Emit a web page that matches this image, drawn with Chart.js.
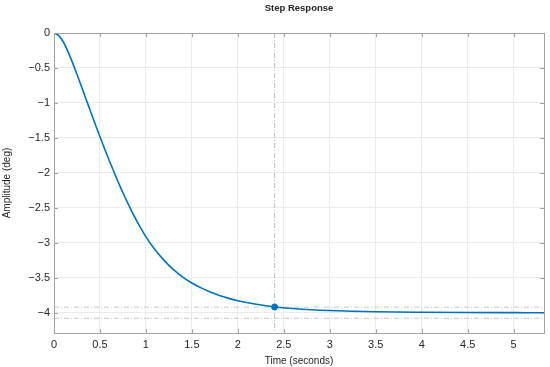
<!DOCTYPE html>
<html>
<head>
<meta charset="utf-8">
<script src="https://cdn.jsdelivr.net/npm/chart.js@4.4.1/dist/chart.umd.min.js"></script>
<style>
html,body{margin:0;padding:0;background:#fff;}
#wrap{width:550px;height:367px;position:relative;}
</style>
</head>
<body>
<div id="wrap"><canvas id="c" width="550" height="367"></canvas></div>
<script>
// ---- data ----
const timeValues = [0, 0.05, 0.1, 0.15, 0.2, 0.25, 0.3, 0.35, 0.4, 0.45, 0.5, 0.55, 0.6, 0.65, 0.7, 0.75, 0.8, 0.85, 0.9, 0.95, 1.0, 1.1, 1.2, 1.3, 1.4, 1.5, 1.6, 1.7, 1.8, 1.9, 2.0, 2.2, 2.4, 2.6, 2.8, 3.0, 3.25, 3.5, 4.0, 4.5, 5.0, 5.33];
const amplitudeValues = [0, -0.035, -0.125, -0.26, -0.42, -0.593, -0.77, -0.95, -1.13, -1.308, -1.483, -1.654, -1.82, -1.981, -2.136, -2.285, -2.426, -2.56, -2.686, -2.804, -2.915, -3.10, -3.255, -3.385, -3.49, -3.575, -3.645, -3.705, -3.755, -3.795, -3.828, -3.879, -3.918, -3.94, -3.957, -3.969, -3.979, -3.986, -3.993, -3.997, -3.999, -4.0];
const settlingTime = 2.4;
const settlingAmplitude = -3.918;
const settlingBand = [-3.92, -4.08];
const xRange = [0, 5.33];
const yRange = [-4.29, 0];
const xTickStep = 0.5;
const yTickStep = 0.5;
const titleText = 'Step Response';
const xLabel = 'Time (seconds)';
const yLabel = 'Amplitude (deg)';

const FONT = '"Liberation Sans", Arial, Helvetica, sans-serif';
const AXIS_COLOR = '#a3a3a3';
const GRID_COLOR = '#ebebeb';
const LINE_COLOR = '#0072BD';

const fmt = v => {
  const r = Math.round(v * 100) / 100;
  return r < 0 ? '\u2212' + String(-r) : String(r);
};

const stepData = timeValues.map((t, i) => ({x: t, y: amplitudeValues[i]}));

const boxPlugin = {
  id: 'box',
  afterDatasetsDraw(chart) {
    const {ctx, chartArea: a, scales} = chart;
    ctx.save();
    ctx.strokeStyle = AXIS_COLOR;
    ctx.lineWidth = 1;
    ctx.strokeRect(Math.round(a.left) + 0.5, Math.round(a.top) + 0.5, Math.round(a.right - a.left), Math.round(a.bottom - a.top));
    const tl = 4;
    ctx.beginPath();
    scales.x.ticks.forEach(tk => {
      const px = Math.round(scales.x.getPixelForValue(tk.value)) + 0.5;
      ctx.moveTo(px, a.top); ctx.lineTo(px, a.top + tl);
      ctx.moveTo(px, a.bottom); ctx.lineTo(px, a.bottom - tl);
    });
    scales.y.ticks.forEach(tk => {
      const py = Math.round(scales.y.getPixelForValue(tk.value)) + 0.5;
      ctx.moveTo(a.left, py); ctx.lineTo(a.left + tl, py);
      ctx.moveTo(a.right, py); ctx.lineTo(a.right - tl, py);
    });
    ctx.stroke();
    // title
    ctx.fillStyle = '#262626';
    ctx.font = 'bold 9.5px ' + FONT;
    ctx.textAlign = 'center';
    ctx.textBaseline = 'middle';
    ctx.fillText(titleText, (a.left + a.right) / 2, 8);
    ctx.restore();
  }
};

new Chart(document.getElementById('c'), {
  type: 'scatter',
  data: {
    datasets: [
      {
        label: 'band-upper',
        data: [{x: xRange[0], y: settlingBand[0]}, {x: xRange[1], y: settlingBand[0]}],
        showLine: true, borderColor: '#c8c8c8', borderWidth: 1, borderDash: [5, 2, 1, 2],
        pointRadius: 0, order: 3
      },
      {
        label: 'band-lower',
        data: [{x: xRange[0], y: settlingBand[1]}, {x: xRange[1], y: settlingBand[1]}],
        showLine: true, borderColor: '#c8c8c8', borderWidth: 1, borderDash: [5, 2, 1, 2],
        pointRadius: 0, order: 3
      },
      {
        label: 'settling-time',
        data: [{x: settlingTime, y: yRange[1]}, {x: settlingTime, y: yRange[0]}],
        showLine: true, borderColor: '#bdbdbd', borderWidth: 1, borderDash: [5, 2, 1, 2],
        pointRadius: 0, order: 3
      },
      {
        label: 'step',
        data: stepData,
        showLine: true, borderColor: LINE_COLOR, borderWidth: 1.6,
        cubicInterpolationMode: 'monotone',
        pointRadius: 0, order: 2
      },
      {
        label: 'marker',
        data: [{x: settlingTime, y: settlingAmplitude}],
        pointRadius: 3, pointBackgroundColor: LINE_COLOR, pointBorderColor: LINE_COLOR,
        order: 1
      }
    ]
  },
  options: {
    responsive: false,
    animation: false,
    layout: {padding: {top: 33, right: 6, left: 0, bottom: 0}},
    plugins: {legend: {display: false}, tooltip: {enabled: false}, title: {display: false}},
    scales: {
      x: {
        type: 'linear', min: xRange[0], max: xRange[1],
        afterFit(s) { s.height = 34; },
        grid: {color: GRID_COLOR, drawTicks: false},
        border: {display: false},
        ticks: {stepSize: xTickStep, includeBounds: false, padding: 5, color: '#262626',
                font: {family: FONT, size: 11}, maxRotation: 0, callback: v => fmt(v)},
        title: {display: true, text: xLabel, color: '#262626', font: {family: FONT, size: 10}, padding: {top: 3, bottom: 0}}
      },
      y: {
        type: 'linear', min: yRange[0], max: yRange[1],
        afterFit(s) { s.width = 54; },
        grid: {color: GRID_COLOR, drawTicks: false},
        border: {display: false},
        ticks: {stepSize: yTickStep, includeBounds: false, padding: 4, color: '#262626',
                font: {family: FONT, size: 11}, callback: v => fmt(v)},
        title: {display: true, text: yLabel, color: '#262626', font: {family: FONT, size: 10}, padding: {top: 1, bottom: 0}}
      }
    }
  },
  plugins: [boxPlugin]
});
</script>
</body>
</html>
